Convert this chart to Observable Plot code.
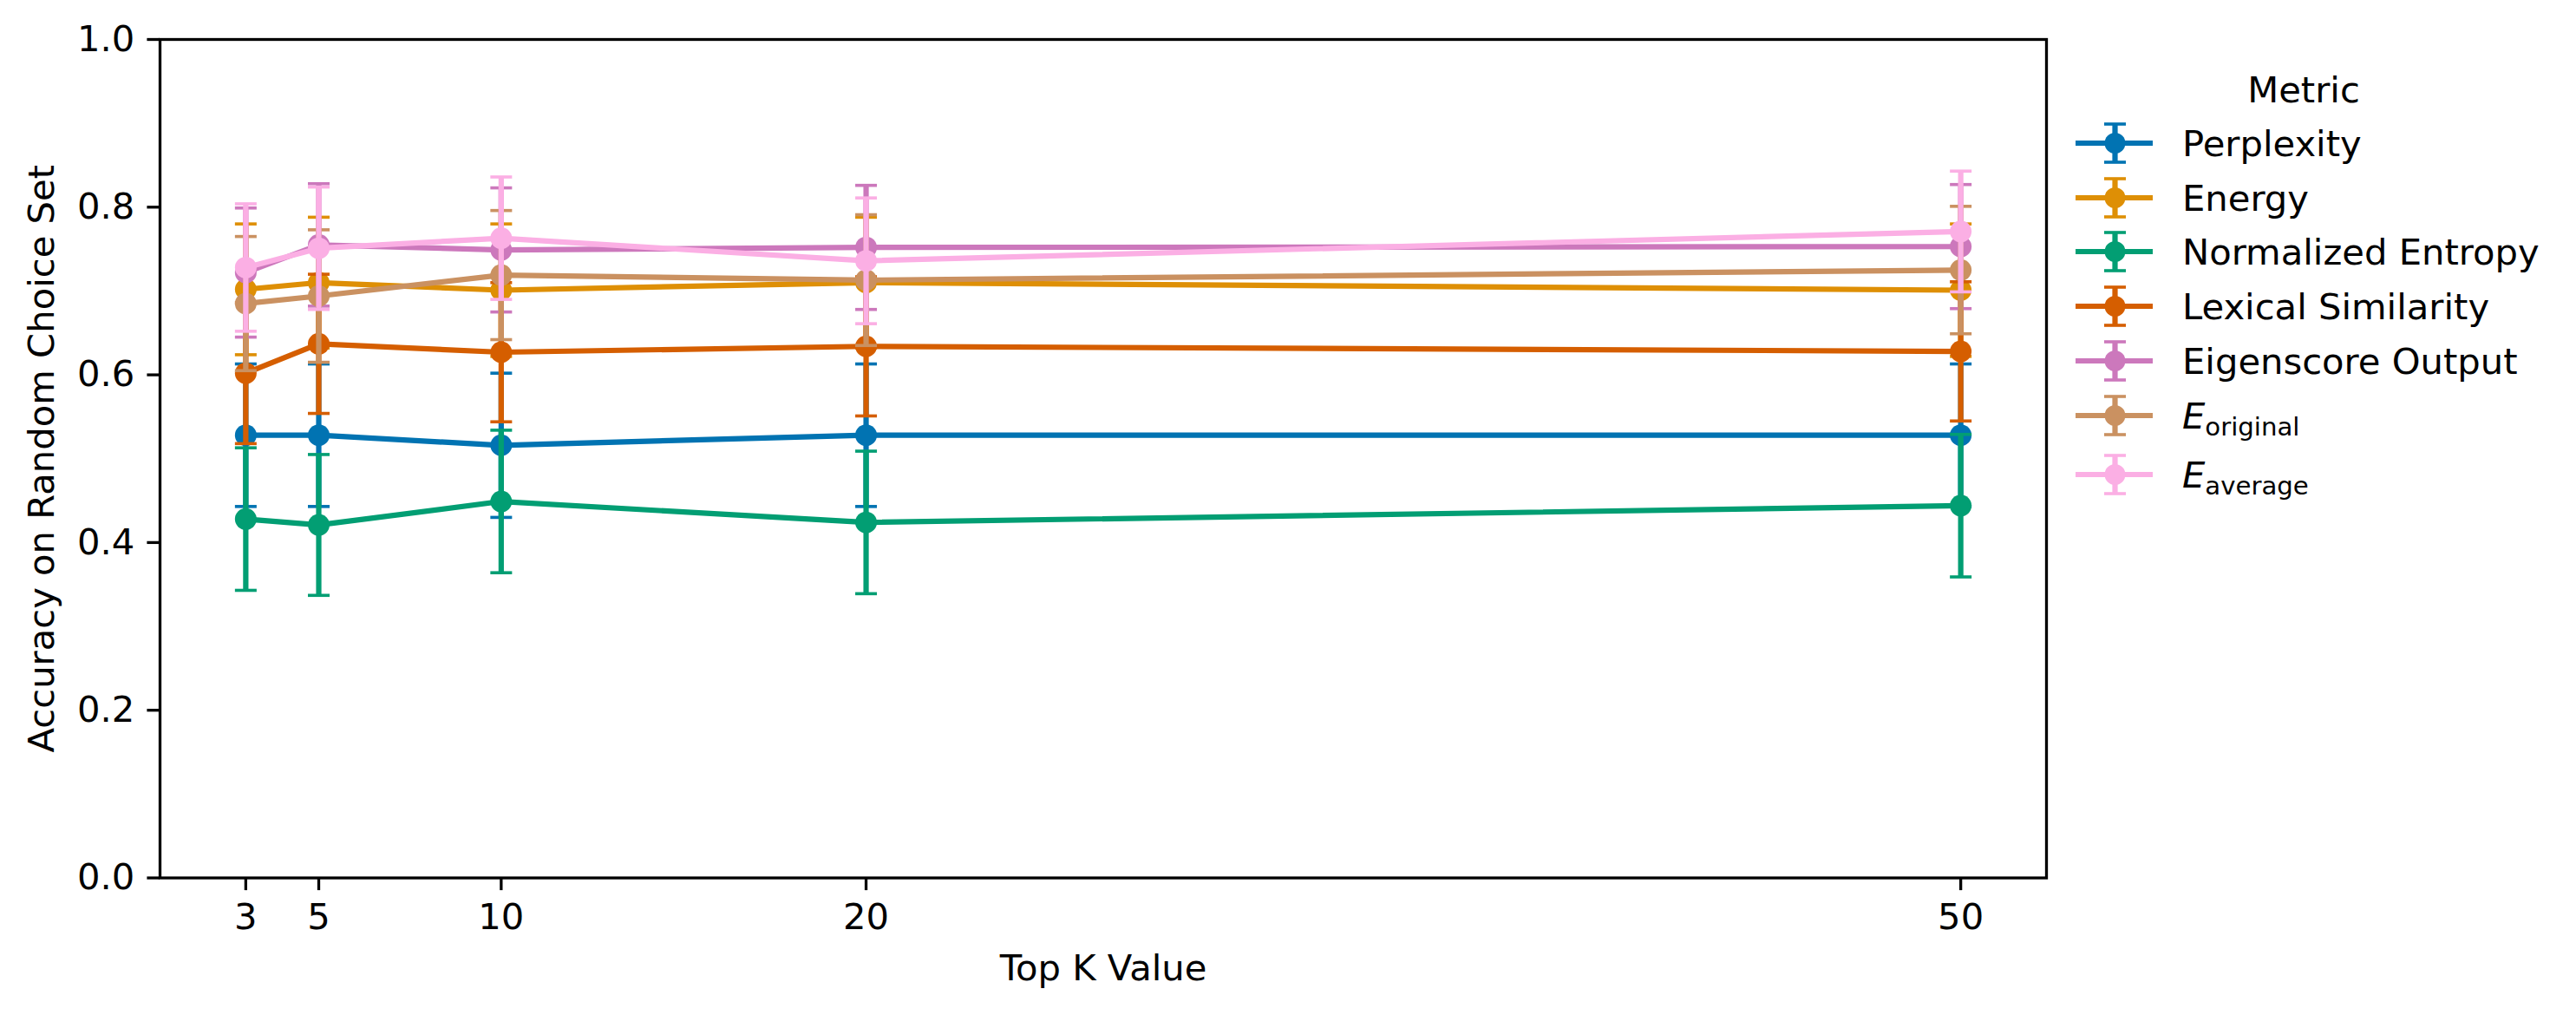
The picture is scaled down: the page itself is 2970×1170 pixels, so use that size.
<!DOCTYPE html>
<html><head><meta charset="utf-8">
<script src="https://cdn.jsdelivr.net/npm/d3@7"></script>
<script src="https://cdn.jsdelivr.net/npm/@observablehq/plot@0.6"></script>
<style>
body{margin:0;background:#fff;font-family:"DejaVu Sans",sans-serif;}
#wrap{position:relative;width:2970px;height:1170px;overflow:hidden;}
.lg{position:absolute;font-size:41.7px;color:#000;white-space:nowrap;}
.row{position:absolute;left:2393px;height:64px;display:flex;align-items:center;}
.row svg{display:block;}
.row span.t{margin-left:34px;}
</style></head><body><div id="wrap"></div>
<script>
// ---- data ----
const topK = [3, 5, 10, 20, 50];
const metrics = ["Perplexity", "Energy", "Normalized Entropy", "Lexical Similarity", "Eigenscore Output", "E_original", "E_average"];
const colors = ["#0173B2", "#DE8F05", "#029E73", "#D55E00", "#CC78BC", "#CA9161", "#FBAFE4"];
const perplexity    = [0.528, 0.528, 0.516, 0.528, 0.528];
const perplexityErr = [0.085, 0.085, 0.086, 0.085, 0.085];
const energy        = [0.702, 0.710, 0.701, 0.710, 0.701];
const energyErr     = [0.078, 0.078, 0.079, 0.078, 0.079];
const normEntropy   = [0.428, 0.421, 0.449, 0.424, 0.444];
const normEntropyErr= [0.085, 0.084, 0.085, 0.085, 0.085];
const lexicalSim    = [0.602, 0.637, 0.627, 0.634, 0.628];
const lexicalSimErr = [0.084, 0.083, 0.083, 0.083, 0.083];
const eigenscore    = [0.722, 0.755, 0.749, 0.752, 0.753];
const eigenscoreErr = [0.077, 0.073, 0.074, 0.074, 0.074];
const eOriginal     = [0.685, 0.694, 0.719, 0.713, 0.725];
const eOriginalErr  = [0.080, 0.079, 0.077, 0.078, 0.076];
const eAverage      = [0.728, 0.751, 0.763, 0.736, 0.771];
const eAverageErr   = [0.076, 0.073, 0.073, 0.075, 0.072];
const yTicks = [0, 0.2, 0.4, 0.6, 0.8, 1.0];

const seriesValues = [perplexity, energy, normEntropy, lexicalSim, eigenscore, eOriginal, eAverage];
const seriesErrors = [perplexityErr, energyErr, normEntropyErr, lexicalSimErr, eigenscoreErr, eOriginalErr, eAverageErr];

const rows = [];
metrics.forEach((m, i) => topK.forEach((k, j) => {
  const v = seriesValues[i][j], e = seriesErrors[i][j];
  rows.push({metric: m, k, value: v, lo: v - e, hi: v + e});
}));

const capSymbol = {draw(ctx) { ctx.moveTo(-12.5, 0); ctx.lineTo(12.5, 0); }};

const marks = [];
metrics.forEach(m => {
  const d = rows.filter(r => r.metric === m);
  marks.push(
    Plot.ruleX(d, {x: "k", y1: "lo", y2: "hi", stroke: "metric", strokeWidth: 6.2}),
    Plot.dot(d, {x: "k", y: "lo", symbol: capSymbol, stroke: "metric", strokeWidth: 3.6, fill: "none", r: 5}),
    Plot.dot(d, {x: "k", y: "hi", symbol: capSymbol, stroke: "metric", strokeWidth: 3.6, fill: "none", r: 5}),
    Plot.line(d, {x: "k", y: "value", stroke: "metric", strokeWidth: 6.2, curve: "linear"}),
    Plot.dot(d, {x: "k", y: "value", fill: "metric", r: 12.5, stroke: "none"})
  );
});

const chart = Plot.plot({
  width: 2970,
  height: 1170,
  marginLeft: 184,
  marginRight: 611,
  marginTop: 45,
  marginBottom: 158.5,
  style: {fontFamily: "DejaVu Sans", fontSize: "41.7px", color: "#000", background: "#fff"},
  x: {type: "linear", domain: [0.65, 52.35]},
  y: {domain: [0, 1]},
  color: {domain: metrics, range: colors},
  marks: [
    ...marks,
    Plot.axisX({ticks: topK, tickFormat: d => String(d), tickSize: 14.6, tickPadding: 14.6, strokeWidth: 3.3, fontSize: 41.7,
      label: "Top K Value", labelAnchor: "center", labelArrow: "none", labelOffset: 118}),
    Plot.axisY({ticks: yTicks, tickFormat: d3.format(".1f"), tickSize: 14.6, tickPadding: 14.6, strokeWidth: 3.3, fontSize: 41.7,
      label: "Accuracy on Random Choice Set", labelAnchor: "center", labelArrow: "none", labelOffset: 152}),
    Plot.frame({stroke: "#000", strokeWidth: 3.3})
  ]
});
const wrap = document.getElementById("wrap");
wrap.appendChild(chart);

// ---- legend (HTML, right of plot) ----
const title = document.createElement("div");
title.className = "lg";
title.textContent = "Metric";
title.style.left = "2656px";
title.style.top = "103px";
title.style.transform = "translate(-50%,-50%)";
wrap.appendChild(title);

const labelHTML = m => m === "E_original" ? '<i>E</i><span style="font-size:0.7em;position:relative;top:0.3em">original</span>'
  : m === "E_average" ? '<i>E</i><span style="font-size:0.7em;position:relative;top:0.3em">average</span>' : m;

const rowCenters = [165, 228, 290, 353, 416, 479, 547];
metrics.forEach((m, i) => {
  const row = document.createElement("div");
  row.className = "row lg";
  const cy = rowCenters[i];
  row.style.top = (cy - 32) + "px";
  const c = colors[i];
  row.innerHTML = `<svg width="89" height="64" viewBox="0 0 89 64">
    <line x1="0" x2="89" y1="32" y2="32" stroke="${c}" stroke-width="6.2"/>
    <line x1="45.5" x2="45.5" y1="10" y2="54" stroke="${c}" stroke-width="6.2"/>
    <line x1="33" x2="58" y1="10" y2="10" stroke="${c}" stroke-width="3.6"/>
    <line x1="33" x2="58" y1="54" y2="54" stroke="${c}" stroke-width="3.6"/>
    <circle cx="45.5" cy="32" r="12" fill="${c}"/>
  </svg><span class="t">${labelHTML(m)}</span>`;
  wrap.appendChild(row);
});
</script>
</body></html>
